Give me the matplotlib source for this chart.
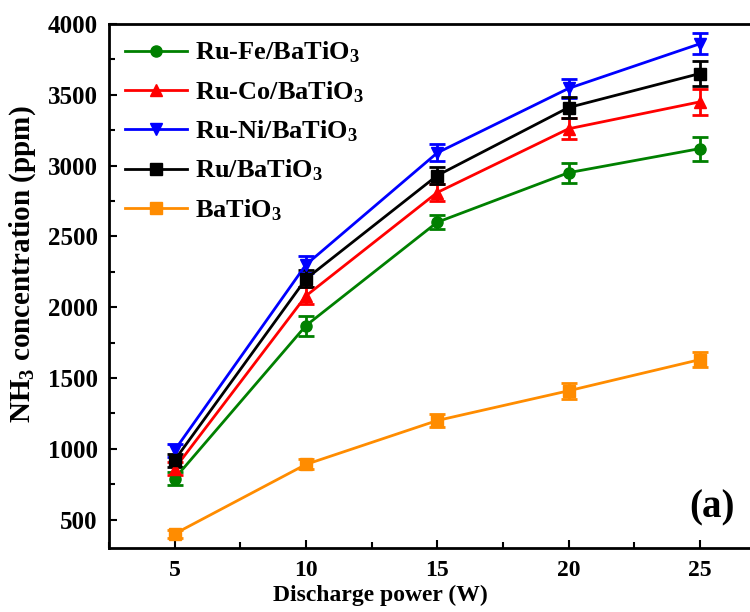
import matplotlib

matplotlib.use("Agg")
import matplotlib.pyplot as plt
from matplotlib.ticker import MultipleLocator

# Data
power = [5, 10, 15, 20, 25]
ru_fe = [790, 1870, 2600, 2950, 3120]
ru_fe_err = [45, 70, 50, 70, 85]
ru_co = [860, 2080, 2810, 3260, 3450]
ru_co_err = [45, 60, 60, 75, 90]
ru_ni = [990, 2300, 3090, 3545, 3860]
ru_ni_err = [45, 60, 60, 70, 75]
ru = [920, 2200, 2930, 3410, 3650]
ru_err = [45, 60, 60, 75, 90]
bto = [400, 890, 1200, 1410, 1630]
bto_err = [30, 35, 45, 55, 55]

series = [
    ("Ru-Fe/BaTiO$_3$", ru_fe, ru_fe_err, "#008000", "o"),
    ("Ru-Co/BaTiO$_3$", ru_co, ru_co_err, "#ff0000", "^"),
    ("Ru-Ni/BaTiO$_3$", ru_ni, ru_ni_err, "#0000ff", "v"),
    ("Ru/BaTiO$_3$", ru, ru_err, "#000000", "s"),
    ("BaTiO$_3$", bto, bto_err, "#ff8c00", "s"),
]

plt.rcParams["font.family"] = "Liberation Serif"
plt.rcParams["font.weight"] = "bold"
plt.rcParams["mathtext.fontset"] = "custom"
plt.rcParams["mathtext.rm"] = "Liberation Serif:bold"
plt.rcParams["mathtext.it"] = "Liberation Serif:bold"
plt.rcParams["mathtext.bf"] = "Liberation Serif:bold"

fig = plt.figure(figsize=(7.5, 6.12), dpi=100)
ax = fig.add_axes([0.1453, 0.1046, 0.8753, 0.8562])

handles, labels = [], []
for label, y, err, col, mk in series:
    c = ax.errorbar(power, y, yerr=err, color=col, marker=mk, markersize=8,
                    linewidth=2, elinewidth=2, capsize=6, capthick=2,
                    markeredgecolor=col)
    handles.append(c[0])
    labels.append(label)

ax.set_xlim(2.5, 27.5)
ax.set_ylim(300, 4000)
ax.xaxis.set_major_locator(MultipleLocator(5))
ax.xaxis.set_minor_locator(MultipleLocator(2.5))
ax.yaxis.set_major_locator(MultipleLocator(500))
ax.yaxis.set_minor_locator(MultipleLocator(250))
ax.tick_params(which="both", direction="in", width=1.5)
ax.tick_params(which="major", length=6)
ax.tick_params(which="minor", length=4)
ax.tick_params(axis="x", labelsize=17, pad=9)
ax.tick_params(axis="y", labelsize=18, pad=8)
for s in ax.spines.values():
    s.set_linewidth(2)

ax.set_xlabel("Discharge power (W)", fontsize=17, fontweight="bold")
ax.set_ylabel("NH$_3$ concentration (ppm)", fontsize=21, fontweight="bold")
ax.xaxis.set_label_coords(0.413, -0.07)
ax.yaxis.set_label_coords(-0.108, 0.542)

ax.legend(handles, labels, loc="upper left", frameon=False, fontsize=19,
          handlelength=2.35, labelspacing=0.52, borderaxespad=0.2,
          handletextpad=0.3)

ax.text(0.918, 0.076, "(a)", transform=ax.transAxes, fontsize=28,
        fontweight="bold", ha="center", va="center")

fig.savefig("out.png", dpi=100)
